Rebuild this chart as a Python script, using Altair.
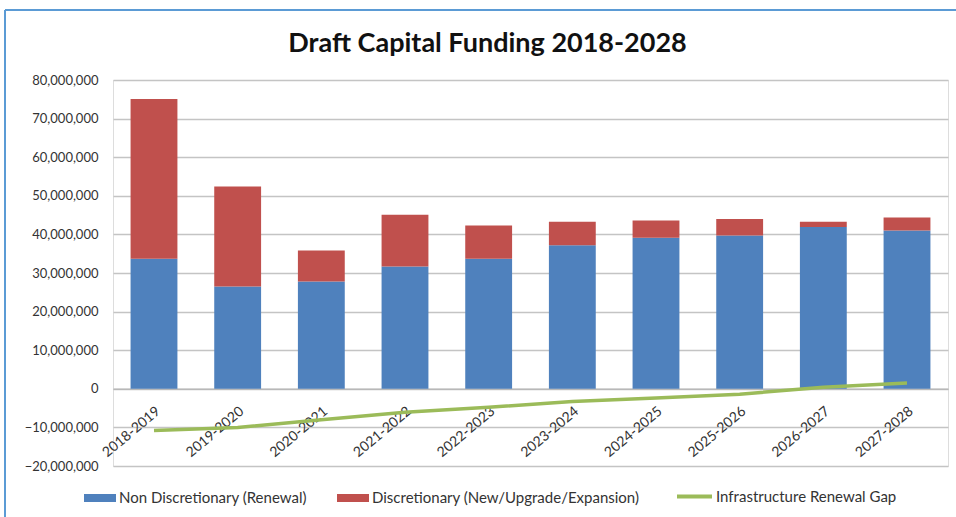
import altair as alt
import pandas as pd

periods = ["2018-2019", "2019-2020", "2020-2021", "2021-2022", "2022-2023",
           "2023-2024", "2024-2025", "2025-2026", "2026-2027", "2027-2028"]
non_discretionary = [33.7e6, 26.5e6, 27.8e6, 31.7e6, 33.7e6, 37.2e6, 39.1e6, 39.7e6, 41.9e6, 41.0e6]
discretionary = [41.4e6, 25.9e6, 8.0e6, 13.4e6, 8.6e6, 6.1e6, 4.5e6, 4.3e6, 1.4e6, 3.4e6]
renewal_gap = [-10.8e6, -10.0e6, -8.0e6, -6.1e6, -4.8e6, -3.3e6, -2.4e6, -1.4e6, 0.4e6, 1.5e6]
y_ticks = [-20e6, -10e6, 0, 10e6, 20e6, 30e6, 40e6, 50e6, 60e6, 70e6, 80e6]

S_NON = "Non Discretionary (Renewal)"
S_DISC = "Discretionary (New/Upgrade/Expansion)"
S_GAP = "Infrastructure Renewal Gap"

bars = pd.DataFrame(
    [{"period": p, "series": S_NON, "value": v, "ord": 0} for p, v in zip(periods, non_discretionary)]
    + [{"period": p, "series": S_DISC, "value": v, "ord": 1} for p, v in zip(periods, discretionary)]
)
gap = pd.DataFrame({"period": periods, "value": renewal_gap, "series": S_GAP})

W, H = 835, 386
FONT = "Lato"
TXT = "#333333"

x_axis = alt.Axis(labelAngle=-40, offset=-H * 0.2, ticks=False,
                  domainColor="#b8b8b8", domainWidth=1.5,
                  labelPadding=15, labelFontSize=14, labelColor=TXT,
                  labelFont=FONT, labelOverlap=False)
x_scale = alt.Scale(paddingInner=0.44, paddingOuter=0.21)
y_scale = alt.Scale(domain=[-20e6, 80e6], nice=False)
y_axis = alt.Axis(values=y_ticks, format=",d", title=None, ticks=False, domain=False,
                  gridColor="#c4c4c4", gridWidth=1.3, labelPadding=15,
                  labelFontSize=13, labelColor=TXT, labelFont=FONT,
                  labelOverlap=False)

bar_layer = alt.Chart(bars).mark_bar().encode(
    x=alt.X("period:N", sort=periods, title=None, scale=x_scale, axis=x_axis),
    y=alt.Y("value:Q", stack="zero", scale=y_scale, axis=y_axis),
    order=alt.Order("ord:Q"),
    fill=alt.Fill("series:N",
                  scale=alt.Scale(domain=[S_NON, S_DISC], range=["#4F81BD", "#C0504D"]),
                  legend=alt.Legend(title=None, orient="none", direction="horizontal",
                                    legendX=-29, legendY=402, columns=2, columnPadding=30,
                                    symbolType="M-1,-0.25H1V0.25H-1Z", symbolSize=1024,
                                    symbolStrokeWidth=0, labelOffset=3, labelLimit=0,
                                    labelFontSize=15, labelFont=FONT, labelColor=TXT)),
)

line_layer = alt.Chart(gap).mark_line(strokeWidth=3.5).encode(
    x=alt.X("period:N", sort=periods, title=None, scale=x_scale, axis=x_axis),
    y=alt.Y("value:Q", title=None, scale=y_scale, axis=y_axis),
    stroke=alt.Stroke("series:N",
                      scale=alt.Scale(domain=[S_GAP], range=["#9BBB59"]),
                      legend=alt.Legend(title=None, orient="none", direction="horizontal",
                                        legendX=562, legendY=397,
                                        symbolType="stroke", symbolSize=1225,
                                        symbolStrokeWidth=4, labelOffset=2, labelLimit=0,
                                        labelFontSize=15, labelFont=FONT, labelColor=TXT)),
)

frame_data = alt.Data(values=[{"k": 1}])
frame_left = alt.Chart(frame_data).mark_rule(color="#5B9BD5", strokeWidth=2).encode(
    x=alt.value(-108), y=alt.value(-70), y2=alt.value(H + 60))
frame_top = alt.Chart(frame_data).mark_rule(color="#5B9BD5", strokeWidth=2).encode(
    x=alt.value(-108), x2=alt.value(W + 20), y=alt.value(-70))

chart = alt.layer(bar_layer, line_layer, frame_left, frame_top).resolve_scale(
    fill="independent", stroke="independent"
).properties(
    width=W, height=H,
    padding={"left": 113, "top": 80, "right": 8, "bottom": 51},
    autosize=alt.AutoSizeParams(type="none"),
    title=alt.TitleParams("Draft Capital Funding 2018-2028", anchor="middle", dx=-43,
                          fontSize=27, font=FONT, fontWeight="bold", color="#111111",
                          offset=-49),
).configure_view(stroke=None).configure(background="white")

chart.save("out.html", embed_options={"renderer": "svg", "actions": False})
